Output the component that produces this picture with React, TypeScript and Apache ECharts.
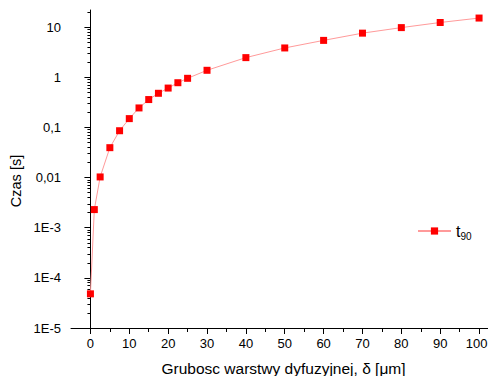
import React, { useEffect, useRef } from 'react';
import * as echarts from 'echarts';

const thickness = [0, 1, 2.5, 5, 7.5, 10, 12.5, 15, 17.5, 20, 22.5, 25, 30, 40, 50, 60, 70, 80, 90, 100];
const time = [4.8e-5, 2.3e-3, 0.0103, 0.0395, 0.086, 0.15, 0.245, 0.36, 0.48, 0.61, 0.78, 0.955, 1.38, 2.47, 3.85, 5.45, 7.6, 9.8, 12.4, 15.2];

const xMajorTicks = [0, 10, 20, 30, 40, 50, 60, 70, 80, 90, 100];
const xMinorTicks = [5, 15, 25, 35, 45, 55, 65, 75, 85, 95];
const yMajorTicks = [1e-5, 1e-4, 1e-3, 0.01, 0.1, 1, 10];
const yTickLabels = ['1E-5', '1E-4', '1E-3', '0,01', '0,1', '1', '10'];
const yMinorMultipliers = [2, 3, 4, 5, 6, 7, 8, 9];

const seriesName = 't90';
const xTitle = 'Grubosc warstwy dyfuzyjnej, \u03b4 [\u03bcm]';
const yTitle = 'Czas [s]';

const X_MIN = -5;
const X_MAX = 102.3;
const Y_MIN = 1e-5;
const Y_MAX = 22;

const font = 'Arial, "Liberation Sans", Helvetica, sans-serif';

export default function App() {
  const ref = useRef<HTMLDivElement>(null);
  useEffect(() => {
    const chart = echarts.init(ref.current as HTMLDivElement, null, { renderer: 'svg' });
    const yMinorTicks: number[] = [];
    yMajorTicks.forEach((p) => {
      yMinorMultipliers.forEach((k) => {
        const v = k * p;
        if (v <= Y_MAX) yMinorTicks.push(v);
      });
    });
    const labelFor = (v: number) => {
      for (let i = 0; i < yMajorTicks.length; i++) {
        if (Math.abs(Math.log10(v) - Math.log10(yMajorTicks[i])) < 1e-6) return yTickLabels[i];
      }
      return '';
    };
    const lastX = xMajorTicks[xMajorTicks.length - 1];
    const black = '#000';
    chart.setOption({
      animation: false,
      backgroundColor: '#fff',
      grid: { left: 71, top: 10, right: 0, bottom: 48, containLabel: false, outerBoundsMode: 'none' },
      xAxis: [
        {
          type: 'value', min: X_MIN, max: X_MAX, position: 'bottom',
          axisLine: { show: true, lineStyle: { color: black, width: 1 } },
          axisTick: { show: true, customValues: xMajorTicks, length: 6, lineStyle: { color: black, width: 1 } },
          axisLabel: {
            customValues: xMajorTicks, color: black, fontSize: 13, fontFamily: font, margin: 9,
            formatter: (v: number) => (v === lastX ? '{m|' + v + '}' : String(v)),
            rich: { m: { fontSize: 13, fontFamily: font, color: black, padding: [0, 5, 0, 0] } },
          },
          splitLine: { show: false },
        },
        {
          type: 'value', min: X_MIN, max: X_MAX, position: 'bottom',
          axisLine: { show: false },
          axisTick: { show: true, customValues: xMinorTicks, length: 4, lineStyle: { color: black, width: 1 } },
          axisLabel: { show: false },
          splitLine: { show: false },
        },
      ],
      yAxis: [
        {
          type: 'log', logBase: 10, min: Y_MIN, max: Y_MAX, position: 'left',
          axisLine: { show: true, lineStyle: { color: black, width: 1 } },
          axisTick: { show: true, customValues: yMajorTicks, length: 6, lineStyle: { color: black, width: 1 } },
          axisLabel: { customValues: yMajorTicks, color: black, fontSize: 13, fontFamily: font, margin: 10, formatter: (v: number) => labelFor(v) },
          splitLine: { show: false },
        },
        {
          type: 'log', logBase: 10, min: Y_MIN, max: Y_MAX, position: 'left',
          axisLine: { show: false },
          axisTick: { show: true, customValues: yMinorTicks, length: 3, lineStyle: { color: black, width: 1 } },
          axisLabel: { show: false },
          splitLine: { show: false },
        },
      ],
      legend: {
        left: 417, top: 223, padding: 0, itemWidth: 33, itemHeight: 9, itemGap: 0,
        data: [seriesName],
        formatter: '{t|t}{s|90}',
        textStyle: {
          rich: {
            t: { fontSize: 16, fontFamily: font, color: black },
            s: { fontSize: 10, fontFamily: font, color: black, padding: [10, 0, 0, 0] },
          },
        },
      },
      graphic: [
        {
          type: 'text', x: 16, y: 181, rotation: Math.PI / 2,
          style: { text: yTitle, fontSize: 14.5, fontFamily: font, fill: black, textAlign: 'center', textVerticalAlign: 'middle' },
        },
        {
          type: 'text', x: 283.5, y: 368,
          style: { text: xTitle, fontSize: 15.5, fontFamily: font, fill: black, textAlign: 'center', textVerticalAlign: 'middle' },
        },
      ],
      series: [
        {
          name: seriesName, type: 'line', xAxisIndex: 0, yAxisIndex: 0,
          data: thickness.map((x, i) => [x, time[i]]),
          symbol: 'rect', symbolSize: 7,
          itemStyle: { color: '#ff0000' },
          lineStyle: { color: '#ff9a9a', width: 1 },
        },
      ],
    });
    return () => chart.dispose();
  }, []);
  return <div ref={ref} style={{ position: 'fixed', left: 0, top: 0, width: 488, height: 376, background: '#fff' }} />;
}
